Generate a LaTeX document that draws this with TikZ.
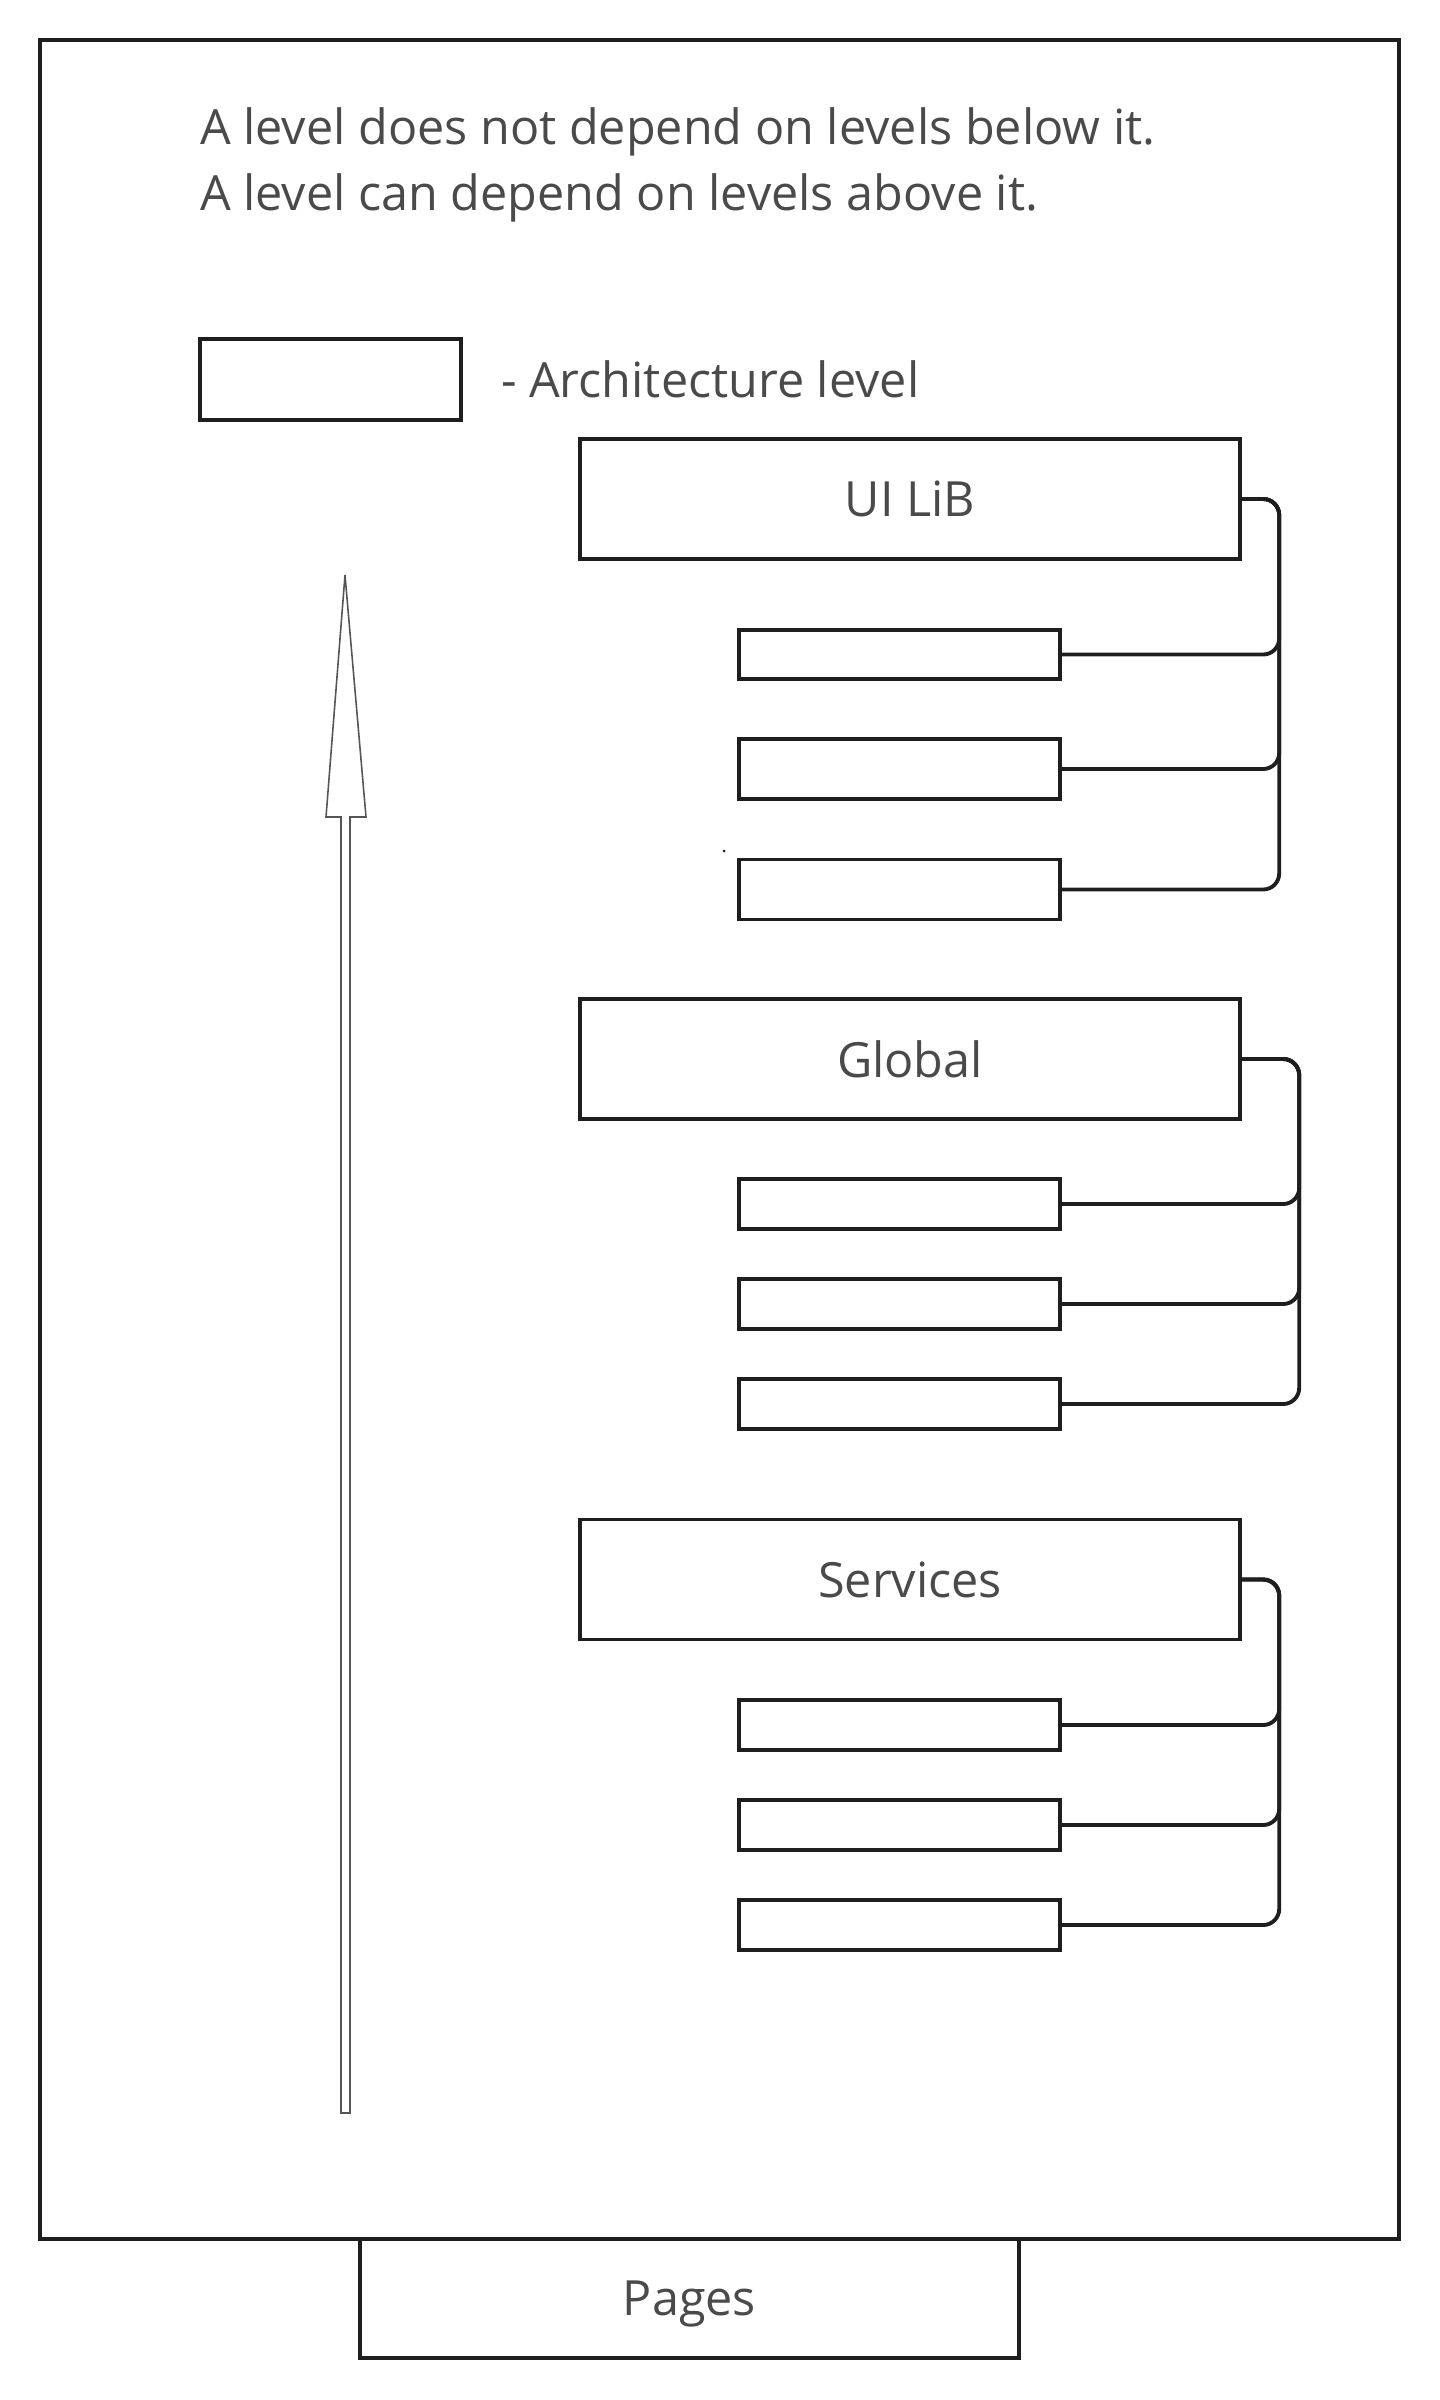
\documentclass[tikz,border=0pt]{standalone}
\usepackage{fontspec}
\setmainfont{Open Sans}
\usepackage{xcolor}
\usepackage{tikz}
\usetikzlibrary{calc}
\definecolor{ink}{HTML}{1E1E1E}
\definecolor{textgray}{HTML}{4A4A4A}
\definecolor{arrowgray}{HTML}{555555}

\begin{document}
\begin{tikzpicture}[x=0.01cm, y=-0.01cm,
        every node/.style={text=textgray, font=\fontsize{13.8}{16}\selectfont, inner sep=0pt, outer sep=0pt},
        levelbox/.style={draw=ink, line width=1.1pt, minimum width=6.6cm, minimum height=1.2cm, text depth=0pt},
        subbox/.style={draw=ink, line width=1.1pt, minimum width=3.2cm, minimum height=0.5cm},
        keybox/.style={draw=ink, line width=1.1pt, minimum width=2.61cm, minimum height=0.81cm},
        link/.style={draw=ink, line width=1.1pt, rounded corners=0.16cm}]
        \useasboundingbox (0,0) rectangle (1440,2400);

        %FRAME
        \draw[ink, line width=1.1pt] (40,40) rectangle (1399,2239);

        %TEKS
        \node[anchor=base west] (rule1) at (200,145) {A level does not depend on levels below it.};
        \node[anchor=base west] (rule2) at (200,210) {A level can depend on levels above it.};

        %LEGEND
        \node[keybox] (key) at (330.5,379.5) {};
        \node[anchor=base west] (keylabel) at (501,397) {- Architecture level};

        %PANAH
        \draw[arrowgray, line width=0.45pt] (341,2113) -- (341,817) -- (326,817) -- (345,575)
            -- (366,817) -- (350,817) -- (350,2113) -- cycle;

        %UI LIB
        \node[levelbox] (uilib) at (910,499) {UI LiB};
        \node[subbox, minimum height=0.49cm] (uisub1) at (899.5,654.5) {};
        \node[subbox, minimum height=0.6cm] (uisub2) at (899.5,769) {};
        \node[subbox, minimum height=0.6cm] (uisub3) at (899.5,889.5) {};
        \fill[ink] (724,851) circle (0.015cm);

        %GLOBAL
        \node[levelbox] (global) at (910,1059) {Global};
        \node[subbox] (glsub1) at (899.5,1204) {};
        \node[subbox] (glsub2) at (899.5,1304) {};
        \node[subbox] (glsub3) at (899.5,1404) {};

        %SERVICES
        \node[levelbox] (services) at (910,1579.5) {Services};
        \node[subbox] (svsub1) at (899.5,1725) {};
        \node[subbox] (svsub2) at (899.5,1825) {};
        \node[subbox] (svsub3) at (899.5,1925) {};

        %PAGES
        \node[levelbox, minimum width=6.59cm, minimum height=1.19cm] (pages) at (689.5,2298.5) {Pages};

        %GARIS
        \foreach \s in {uisub1,uisub2,uisub3}
            \draw[link] (uilib.east) -- ++(39,0) |- (\s.east);
        \foreach \s in {glsub1,glsub2,glsub3}
            \draw[link] (global.east) -- ++(59,0) |- (\s.east);
        \foreach \s in {svsub1,svsub2,svsub3}
            \draw[link] (services.east) -- ++(39,0) |- (\s.east);
    \end{tikzpicture}
\end{document}
